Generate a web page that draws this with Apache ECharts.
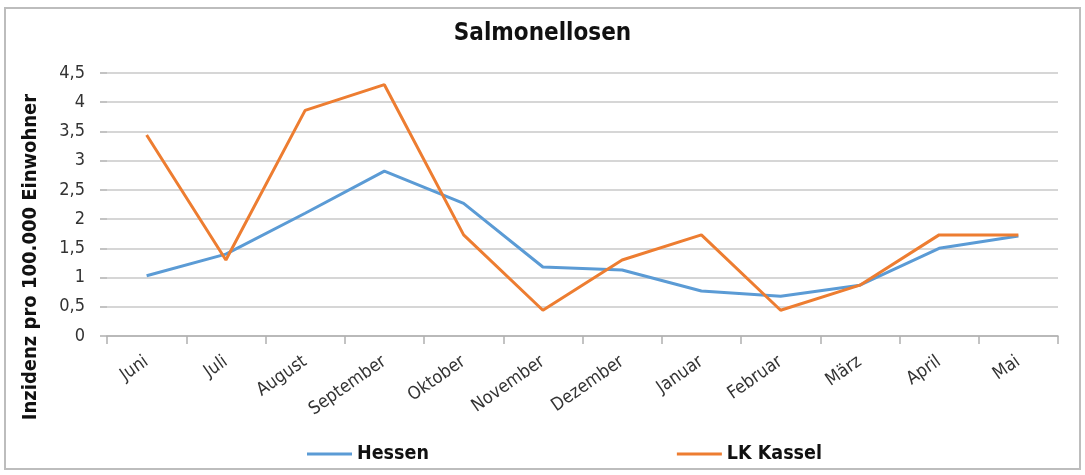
<!DOCTYPE html>
<html><head><meta charset="utf-8">
<script src="https://cdn.jsdelivr.net/npm/echarts@6/dist/echarts.min.js"></script>
<style>html,body{margin:0;padding:0;background:#fff}#c{width:1085px;height:475px}</style>
</head><body><div id="c"></div>
<script>
const categories = ['Juni','Juli','August','September','Oktober','November','Dezember','Januar','Februar','März','April','Mai'];
const hessen = [1.03, 1.40, 2.10, 2.82, 2.27, 1.18, 1.13, 0.77, 0.68, 0.87, 1.50, 1.71];
const lkKassel = [3.44, 1.30, 3.86, 4.30, 1.73, 0.44, 1.30, 1.73, 0.44, 0.87, 1.73, 1.73];
const yTicks = { min: 0, max: 4.5, interval: 0.5 };
const yAxisTitle = 'Inzidenz pro 100.000 Einwohner';

const FONT = "'DejaVu Sans Condensed', 'Noto Sans', sans-serif";
const chart = echarts.init(document.getElementById('c'));
chart.setOption({
  animation: false,
  textStyle: { fontFamily: FONT },
  graphic: [
    { type: 'rect', shape: { x: 5, y: 8, width: 1075, height: 461 }, style: { fill: 'none', stroke: '#bdbdbd', lineWidth: 2 }, z: -1 },
    { type: 'text', x: 31, y: 257, rotation: Math.PI / 2,
      style: { text: yAxisTitle, font: "bold 20px " + FONT, fill: '#111', align: 'center', verticalAlign: 'middle' } }
  ],
  title: { text: 'Salmonellosen', left: 'center', top: 17, textStyle: { fontFamily: FONT, fontSize: 24, fontWeight: 'bold', color: '#111' } },
  legend: {
    top: 439, left: 302, itemGap: 248, itemWidth: 45, itemHeight: 3, icon: 'rect',
    textStyle: { fontFamily: FONT, fontSize: 19.5, fontWeight: 'bold', color: '#111' },
    data: ['Hessen', 'LK Kassel']
  },
  grid: { left: 107, right: 27, top: 73, bottom: 139 },
  xAxis: {
    type: 'category', data: categories, boundaryGap: true,
    axisLine: { lineStyle: { color: '#b0b0b0', width: 1.5 } },
    axisTick: { show: true, length: 8, lineStyle: { color: '#b0b0b0', width: 1.5 } },
    axisLabel: { rotate: 35, margin: 24, fontSize: 18, color: '#333', fontFamily: FONT }
  },
  yAxis: {
    type: 'value', min: yTicks.min, max: yTicks.max, interval: yTicks.interval,
    axisLine: { show: false },
    axisTick: { show: true, length: 7, lineStyle: { color: '#b0b0b0', width: 1.5 } },
    splitLine: { lineStyle: { color: '#c8c8c8', width: 1.5 } },
    axisLabel: { fontSize: 18, color: '#333', margin: 22, fontFamily: FONT, formatter: v => String(v).replace('.', ',') }
  },
  series: [
    { name: 'Hessen', type: 'line', data: hessen, symbol: 'none', lineStyle: { color: '#5B9BD5', width: 3 }, itemStyle: { color: '#5B9BD5' } },
    { name: 'LK Kassel', type: 'line', data: lkKassel, symbol: 'none', lineStyle: { color: '#ED7D31', width: 3 }, itemStyle: { color: '#ED7D31' } }
  ]
});
</script></body></html>
